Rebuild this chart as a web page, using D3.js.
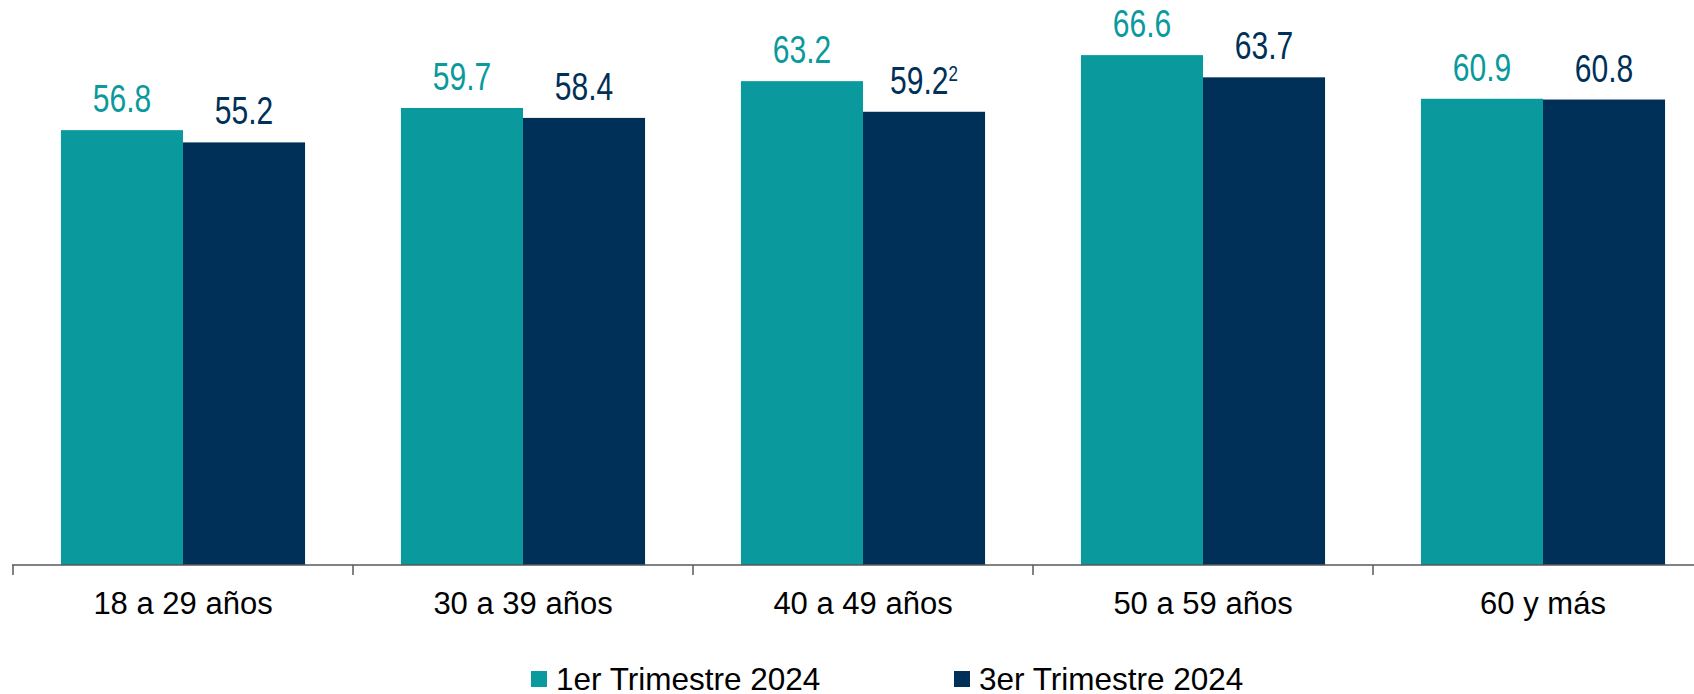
<!DOCTYPE html>
<html>
<head>
<meta charset="utf-8">
<script src="https://cdn.jsdelivr.net/npm/d3@7"></script>
<style>
  html, body { margin: 0; padding: 0; background: #ffffff; overflow: hidden; }
  svg { display: block; }
</style>
</head>
<body>
<svg id="chart" width="1694" height="694"></svg>
<script>
const categories = ["18 a 29 años", "30 a 39 años", "40 a 49 años", "50 a 59 años", "60 y más"];
const seriesNames = ["1er Trimestre 2024", "3er Trimestre 2024"];
const q1Values = [56.8, 59.7, 63.2, 66.6, 60.9];
const q3Values = [55.2, 58.4, 59.2, 63.7, 60.8];
const q3Notes = ["", "", "2", "", ""];
const colors = ["#0A999C", "#003057"];

const svg = d3.select("#chart");
const baseY = 565;
const x = d3.scaleBand().domain(categories).range([13, 1713]).paddingInner(0.282).paddingOuter(0.141);
const xs = d3.scaleBand().domain(seriesNames).range([0, x.bandwidth()]).padding(0);
const y = d3.scaleLinear().domain([0, 73.8]).range([baseY, 0]);

const series = [q1Values, q3Values];
const rows = [];
categories.forEach((c, i) => {
  seriesNames.forEach((s, j) => {
    rows.push({cat: c, s: s, j: j, v: series[j][i], note: j === 1 ? q3Notes[i] : ""});
  });
});

const font = "'Liberation Sans', Arial, sans-serif";

svg.append("g").selectAll("rect").data(rows).join("rect")
  .attr("x", d => x(d.cat) + xs(d.s))
  .attr("y", d => y(d.v))
  .attr("width", xs.bandwidth())
  .attr("height", d => y(0) - y(d.v))
  .attr("fill", d => colors[d.j]);

// value labels (condensed look via horizontal scale)
const lab = svg.append("g").selectAll("g").data(rows).join("g")
  .attr("transform", d => `translate(${x(d.cat) + xs(d.s) + xs.bandwidth() / 2},${y(d.v) - 18}) scale(0.77,1)`);
const labels = lab.append("text")
  .attr("text-anchor", "middle")
  .attr("font-family", font)
  .attr("font-size", 39)
  .attr("fill", d => colors[d.j]);
labels.append("tspan").text(d => d.v.toFixed(1));
labels.filter(d => d.note).append("tspan")
  .attr("font-size", 22)
  .attr("dy", -13)
  .text(d => d.note);

// axis line and boundary ticks
const axisG = svg.append("g");
axisG.append("line")
  .attr("x1", 12).attr("x2", 1694).attr("y1", baseY).attr("y2", baseY)
  .attr("stroke", "#595959").attr("stroke-width", 1.5);
const bounds = d3.range(categories.length + 1).map(i => x(categories[0]) - x.step() * x.paddingOuter() + i * x.step());
axisG.selectAll("line.tick").data(bounds).join("line")
  .attr("class", "tick")
  .attr("x1", d => d).attr("x2", d => d)
  .attr("y1", baseY).attr("y2", baseY + 10)
  .attr("stroke", "#595959").attr("stroke-width", 1.5);

const xAxis = d3.axisBottom(x).tickSize(0).tickPadding(0);
const xg = svg.append("g").attr("transform", `translate(0,${baseY})`).call(xAxis);
xg.select(".domain").remove();
xg.selectAll("text")
  .attr("dy", null)
  .attr("y", 49)
  .attr("font-family", font)
  .attr("font-size", 31)
  .attr("fill", "#000");

// legend
const legendX = [531, 954];
const leg = svg.append("g").selectAll("g").data(seriesNames).join("g")
  .attr("transform", (d, i) => `translate(${legendX[i]},671)`);
leg.append("rect").attr("width", 16).attr("height", 16).attr("fill", (d, i) => colors[i]);
leg.append("text").attr("x", 25).attr("y", 19)
  .attr("font-family", font).attr("font-size", 31.5).attr("fill", "#000")
  .text(d => d);
</script>
</body>
</html>
